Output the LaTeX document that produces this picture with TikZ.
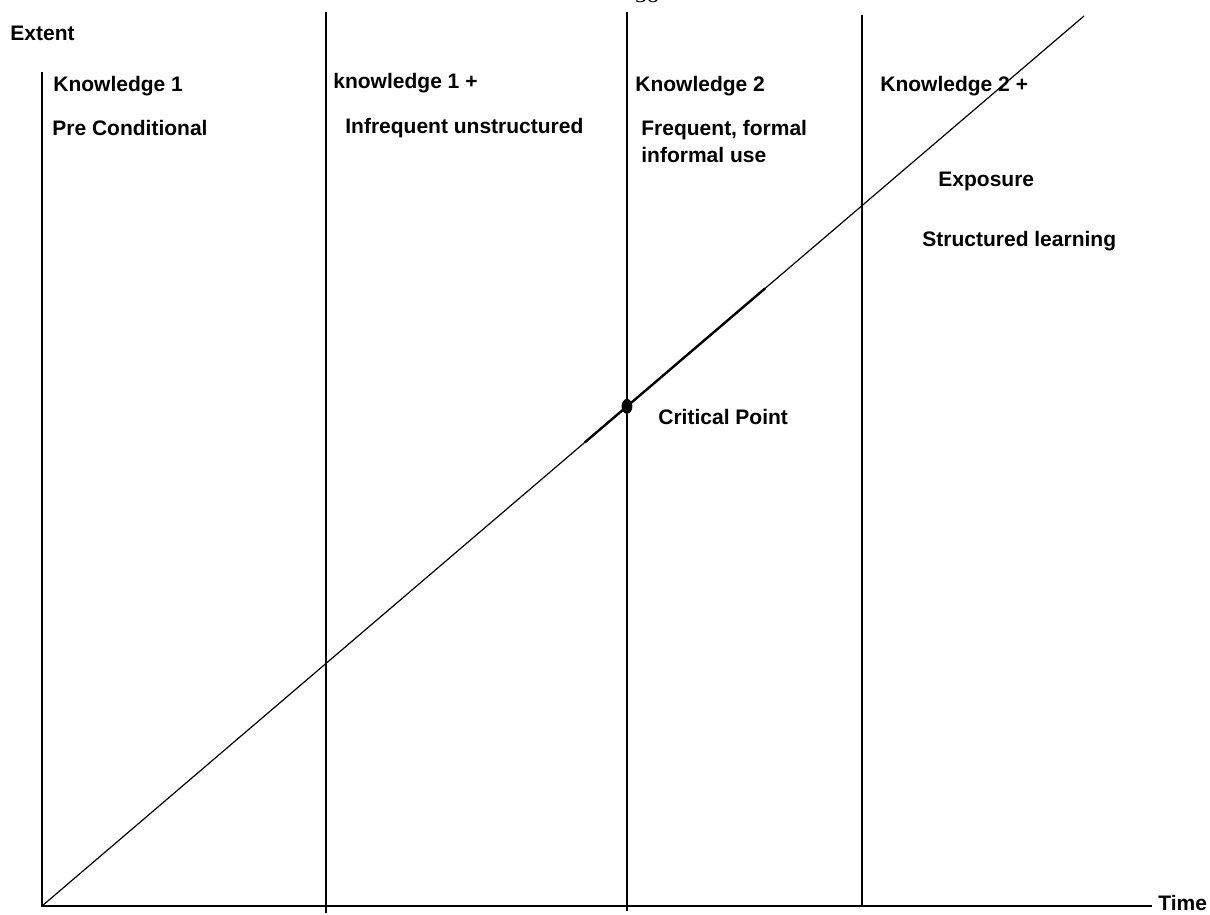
\documentclass[tikz,border=0pt]{standalone}
\usepackage{fontspec}
\setmainfont{Liberation Sans}
\newfontfamily\pagefont{Liberation Serif}
\usetikzlibrary{calc}

\tikzset{
  lbl/.style={anchor=west, inner sep=0pt, align=left,
    font=\bfseries\fontsize{10.5}{13.5}\selectfont},
  axis/.style={line width=1pt},
  trend/.style={line width=0.6pt}
}

\begin{document}
\begin{tikzpicture}[x=0.5pt, y=-0.5pt]
  \useasboundingbox (0,0) rectangle (1210,915);

  \coordinate (O)    at (  42, 906);
  \coordinate (ytop) at (  42,  72);
  \coordinate (xend) at (1152, 906);
  \coordinate (D)    at (1084,  16);

  \coordinate (a1) at (326,  12);
  \coordinate (a2) at (326, 913);
  \coordinate (b1) at (627,  12);
  \coordinate (b2) at (627, 911);
  \coordinate (c1) at (862,  15);
  \coordinate (c2) at (862, 906);

  \node (pg) at (647, 3) [anchor=base, inner sep=0pt, font=\pagefont\fontsize{12}{14}\selectfont] {38};

  \node (ext) at (10, 33) [lbl] {Extent};
  \node (time) at (1158, 903) [lbl] {Time};

  \node (k1)  at ( 53,  86) [lbl] {Knowledge 1};
  \node (pc)  at ( 52, 128) [lbl] {Pre Conditional};
  \node (k1p) at (333,  83) [lbl] {knowledge 1 +};
  \node (inf) at (345, 128) [lbl] {Infrequent unstructured};
  \node (k2)  at (635,  86) [lbl] {Knowledge 2};
  \node (fr)  at (641, 141) [lbl] {Frequent, formal\\informal use};
  \node (k2p) at (880,  86) [lbl] {Knowledge 2 +};
  \node (exp) at (938, 181) [lbl] {Exposure};
  \node (sl)  at (922, 241) [lbl] {Structured learning};
  \node (crit) at (658, 417) [lbl] {Critical Point};

  \draw[axis] (ytop) -- (O) -- (xend);
  \draw[axis] (a1) -- (a2);
  \draw[axis] (b1) -- (b2);
  \draw[axis] (c1) -- (c2);

  \draw[trend] (O) -- (D);
  \draw[line width=1.2pt] ($(O)!0.521!(D)$) -- ($(O)!0.694!(D)$);

  \coordinate (cp) at ($(O)!0.5614!(D)$);
  \filldraw (cp) ellipse [x radius=5, y radius=7];
\end{tikzpicture}
\end{document}
